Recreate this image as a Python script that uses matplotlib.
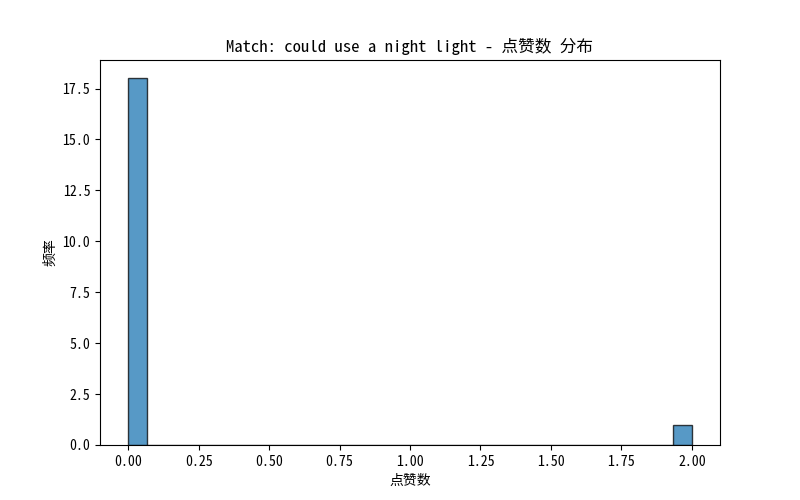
import matplotlib
matplotlib.use("Agg")
import matplotlib.pyplot as plt
import numpy as np

plt.rcParams['font.family'] = ['Noto Sans Mono CJK SC', 'Noto Sans CJK SC', 'DejaVu Sans']
plt.rcParams['axes.unicode_minus'] = False

# data: like counts (18 comments with 0 likes, 1 with 2 likes)
values = [0] * 18 + [2]
n_bins = 30
title = "Match: could use a night light - 点赞数 分布"
xlabel = "点赞数"
ylabel = "频率"

fig, ax = plt.subplots(figsize=(8, 5), dpi=100)
ax.hist(values, bins=n_bins, color='#1f77b4', alpha=0.75, edgecolor='black', linewidth=1)
ax.set_title(title)
ax.set_xlabel(xlabel)
ax.set_ylabel(ylabel)
fig.savefig("out.png", dpi=100)
